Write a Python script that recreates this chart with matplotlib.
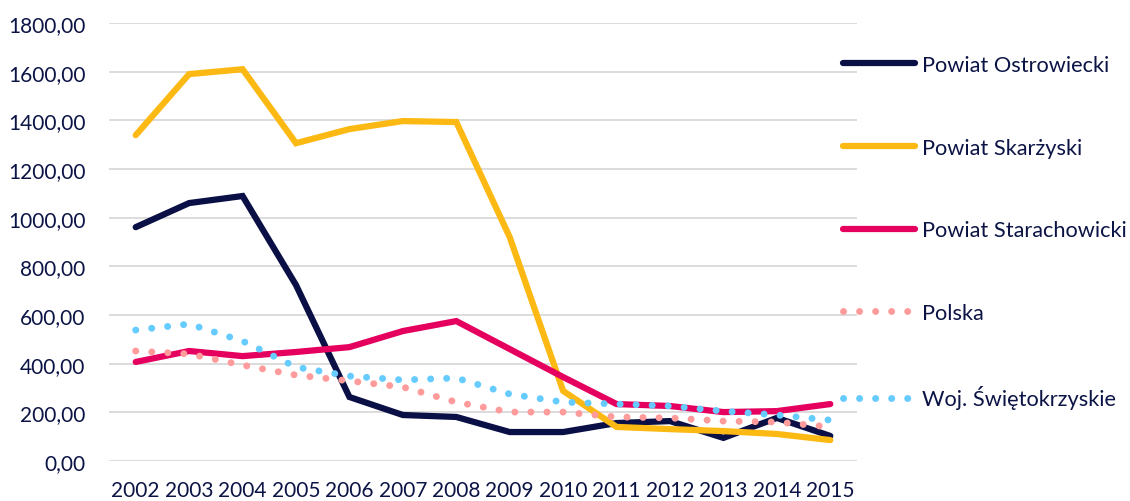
import matplotlib
matplotlib.use("Agg")
import matplotlib.pyplot as plt

years = list(range(2002, 2016))
ostrowiecki = [961, 1060, 1089, 723, 263, 189, 181, 119, 119, 156, 164, 95, 177, 103]
skarzyski = [1339, 1590, 1610, 1306, 1364, 1397, 1393, 920, 288, 140, 131, 123, 111, 86]
starachowicki = [407, 452, 431, 448, 468, 534, 575, 460, 345, 234, 226, 201, 205, 234]
polska = [452, 440, 394, 353, 329, 304, 242, 201, 201, 181, 177, 164, 160, 140]
swietokrzyskie = [538, 563, 493, 386, 349, 333, 341, 275, 242, 234, 226, 205, 189, 168]

text_color = "#0c1446"
plt.rcParams['font.family'] = ['Lato', 'DejaVu Sans']

fig = plt.figure(figsize=(11.3, 5.02), dpi=100)
ax = fig.add_axes([109 / 1130, 1 - 462 / 502, (857 - 109) / 1130, (462 - 24) / 502])

solid = dict(linewidth=4.5, solid_capstyle='round', solid_joinstyle='miter')
ax.plot(years, ostrowiecki, color="#0a1045", label="Powiat Ostrowiecki", **solid)
ax.plot(years, skarzyski, color="#fdb913", label="Powiat Skarżyski", **solid)
ax.plot(years, starachowicki, color="#e5005f", label="Powiat Starachowicki", **solid)
dots = dict(linewidth=5, linestyle=(0, (0.01, 2.3)), dash_capstyle='round')
ax.plot(years, polska, color="#ff9b9b", label="Polska", **dots)
ax.plot(years, swietokrzyskie, color="#66ccff", label="Woj. Świętokrzyskie", **dots)

ax.set_xlim(2001.5, 2015.5)
ax.set_ylim(0, 1800)
ax.set_yticks(range(0, 1801, 200))
ax.set_yticklabels([f"{v},00" for v in range(0, 1801, 200)])
ax.set_xticks(years)
ax.grid(axis='y', color="#d9d9d9", linewidth=1.3)
ax.set_axisbelow(True)
for s in ax.spines.values():
    s.set_visible(False)
ax.tick_params(length=0, labelsize=15, colors=text_color)
ax.tick_params(axis='y', pad=17)
ax.tick_params(axis='x', pad=14)

leg = ax.legend(loc='upper left', bbox_to_anchor=(843 / 1130, 1 - 56 / 502),
                bbox_transform=fig.transFigure, frameon=False, fontsize=15.7,
                labelspacing=2.87, handlelength=3.3, handletextpad=0.33,
                borderaxespad=0, borderpad=0)
for t in leg.get_texts():
    t.set_color(text_color)

fig.savefig("out.png", dpi=100)
